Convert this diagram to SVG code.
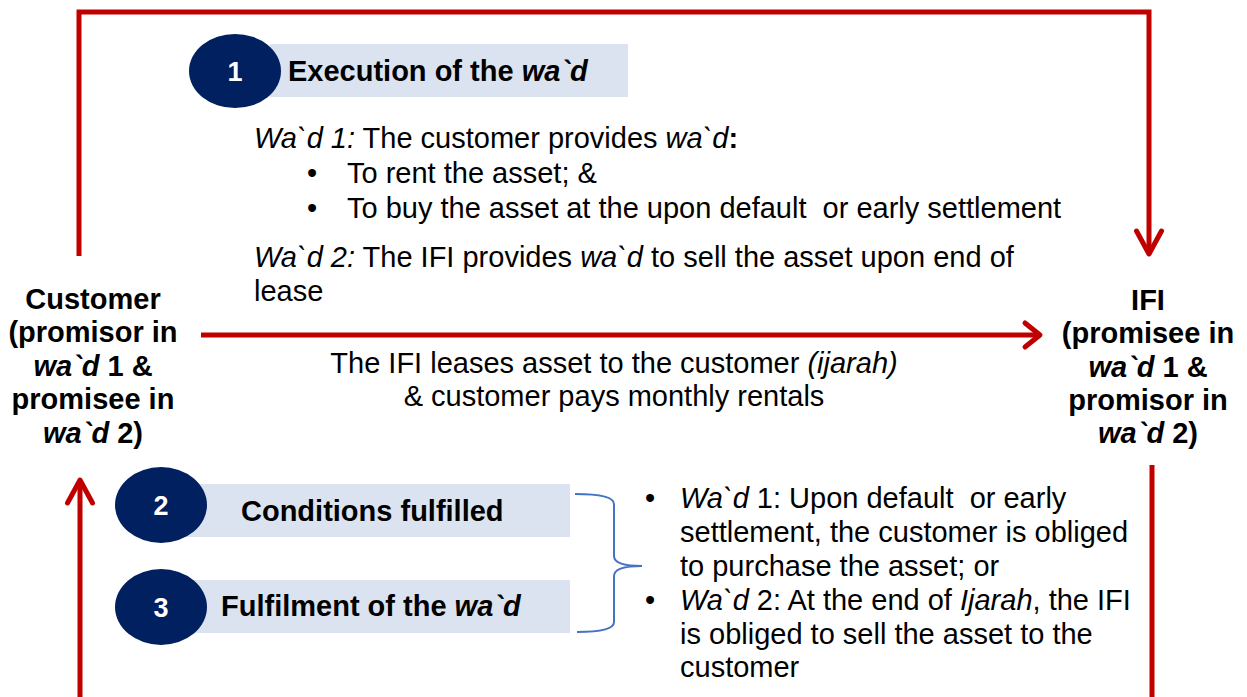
<svg xmlns="http://www.w3.org/2000/svg" width="1247" height="697" viewBox="0 0 1247 697">
<defs>
<style>
.t{font-family:"Liberation Sans",Arial,sans-serif;font-size:29px;fill:#000}
.b{font-weight:bold}
.i{font-style:italic}
.c{text-anchor:middle}
.num{font-family:"Liberation Sans",Arial,sans-serif;font-size:27px;font-weight:bold;fill:#fff;text-anchor:middle}
.box{fill:#DAE3EF}
.circ{fill:#002060}
.red{fill:none;stroke:#C00000;stroke-width:5}
.brace{fill:none;stroke:#4472C4;stroke-width:2}
</style>
<marker id="ah" markerUnits="userSpaceOnUse" markerWidth="60" markerHeight="60" refX="0" refY="0" orient="auto" overflow="visible">
<path d="M-23,-12.5 L0,0 L-23,12.5" fill="none" stroke="#C00000" stroke-width="5" stroke-linecap="round" stroke-linejoin="round"/>
</marker>
<marker id="ahs" markerUnits="userSpaceOnUse" markerWidth="60" markerHeight="60" refX="0" refY="0" orient="auto" overflow="visible">
<path d="M-15,-12 L0,0 L-15,12" fill="none" stroke="#C00000" stroke-width="5" stroke-linecap="round" stroke-linejoin="round"/>
</marker>
</defs>
<rect width="1247" height="697" fill="#fff"/>

<g id="connectors">
<path class="red" d="M79,256 V12 H1149 V254" marker-end="url(#ah)"/>
<path class="red" d="M201,335 H1040" marker-end="url(#ahs)"/>
<path class="red" d="M80,697 V480" marker-end="url(#ah)"/>
<path class="red" d="M1152,465 V697"/>
<path class="brace" d="M575,494 Q614,494 614,504 L614,556 Q614,566 642,566 Q614,566 614,576 L614,622 Q614,632 577,632"/>
</g>

<g id="customer">
<text class="t b c" x="93" y="309">Customer</text>
<text class="t b c" x="93" y="342">(promisor in</text>
<text class="t b c" x="93" y="376"><tspan class="i">wa`d</tspan> 1 &amp;</text>
<text class="t b c" x="93" y="409">promisee in</text>
<text class="t b c" x="93" y="443"><tspan class="i">wa`d</tspan> 2)</text>
</g>

<g id="ifi">
<text class="t b c" x="1148" y="310">IFI</text>
<text class="t b c" x="1148" y="343">(promisee in</text>
<text class="t b c" x="1148" y="377"><tspan class="i">wa`d</tspan> 1 &amp;</text>
<text class="t b c" x="1148" y="410">promisor in</text>
<text class="t b c" x="1148" y="443"><tspan class="i">wa`d</tspan> 2)</text>
</g>

<g id="step1">
<rect class="box" x="270" y="44" width="358" height="53"/>
<ellipse class="circ" cx="235" cy="71" rx="46" ry="37"/>
<text class="num" x="235" y="81">1</text>
<text class="t b" x="288" y="81">Execution of the <tspan class="i">wa`d</tspan></text>
</g>

<g id="wad-text">
<text class="t" x="254" y="148"><tspan class="i">Wa`d 1:</tspan> The customer provides <tspan class="i">wa`d</tspan><tspan class="b">:</tspan></text>
<text class="t" x="307" y="183">•</text>
<text class="t" x="347" y="183">To rent the asset; &amp;</text>
<text class="t" x="307" y="218">•</text>
<text class="t" x="347" y="218" xml:space="preserve">To buy the asset at the upon default  or early settlement</text>
<text class="t" x="254" y="267"><tspan class="i">Wa`d 2:</tspan> The IFI provides <tspan class="i">wa`d</tspan> to sell the asset upon end of</text>
<text class="t" x="254" y="301">lease</text>
</g>

<g id="lease-label">
<text class="t c" x="614" y="373">The IFI leases asset to the customer <tspan class="i">(ijarah)</tspan></text>
<text class="t c" x="614" y="406">&amp; customer pays monthly rentals</text>
</g>

<g id="step2">
<rect class="box" x="185" y="484" width="385" height="53"/>
<ellipse class="circ" cx="161" cy="505" rx="46" ry="38"/>
<text class="num" x="161" y="515">2</text>
<text class="t b" x="241" y="521">Conditions fulfilled</text>
</g>

<g id="step3">
<rect class="box" x="185" y="580" width="385" height="53"/>
<ellipse class="circ" cx="161" cy="607" rx="46" ry="38"/>
<text class="num" x="161" y="617">3</text>
<text class="t b" x="221" y="616">Fulfilment of the <tspan class="i">wa`d</tspan></text>
</g>

<g id="outcomes">
<text class="t" x="645" y="508">•</text>
<text class="t" x="680" y="508" xml:space="preserve"><tspan class="i">Wa`d</tspan> 1: Upon default  or early</text>
<text class="t" x="680" y="542">settlement, the customer is obliged</text>
<text class="t" x="680" y="576">to purchase the asset; or</text>
<text class="t" x="645" y="610">•</text>
<text class="t" x="680" y="610"><tspan class="i">Wa`d</tspan> 2: At the end of <tspan class="i">Ijarah</tspan>, the IFI</text>
<text class="t" x="680" y="644">is obliged to sell the asset to the</text>
<text class="t" x="680" y="677">customer</text>
</g>
</svg>
